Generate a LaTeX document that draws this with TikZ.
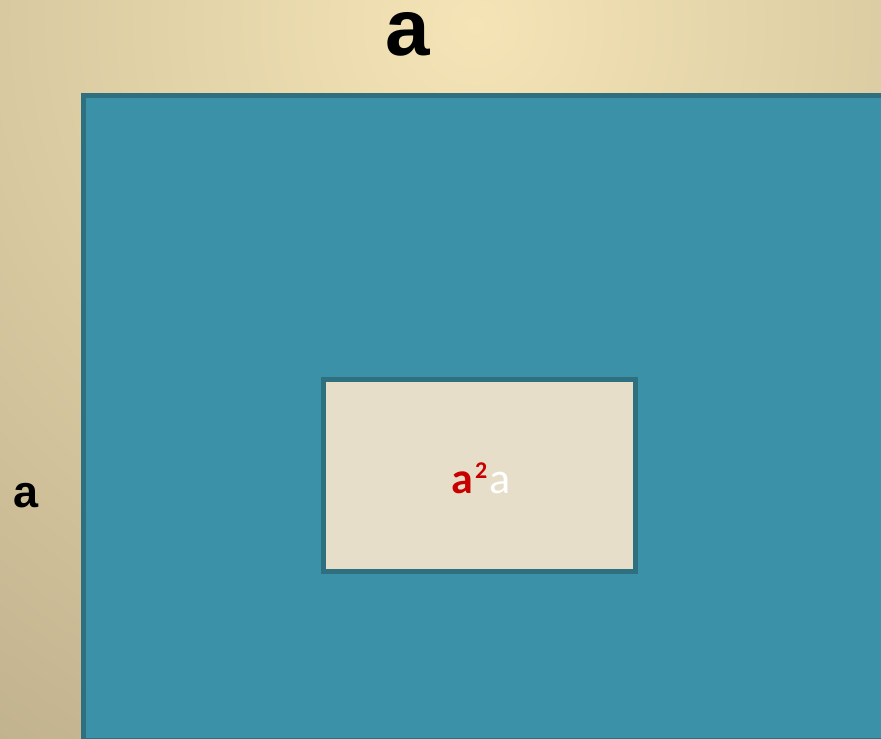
\documentclass[tikz,border=0pt]{standalone}
\usepackage{fontspec}
\setmainfont{Liberation Sans}
\newfontfamily\calibrifont{Carlito}
\usetikzlibrary{positioning}

\definecolor{bglight}{HTML}{F4E4B6}
\definecolor{bgdark}{HTML}{C2B38F}
\definecolor{tealfill}{HTML}{3A91A8}
\definecolor{tealline}{HTML}{2E6F80}
\definecolor{boxfill}{HTML}{E6DEC9}
\definecolor{reda}{HTML}{C80000}

\pgfdeclareradialshading{bgglow}{\pgfpoint{0bp}{0bp}}{%
  color(0bp)=(bglight); color(25bp)=(bgdark); color(50bp)=(bgdark)}

\begin{document}
\begin{tikzpicture}[
  x=1pt, y=-1pt,
  bigbox/.style={draw=tealline, fill=tealfill, line width=5pt},
  smallbox/.style={rectangle, draw=tealline, fill=boxfill, line width=5pt,
    minimum width=312pt, minimum height=192pt, inner sep=0pt},
  side/.style={text=black, inner sep=0pt, text height=0.55em, text depth=0pt}
]

% Frame of the picture
\useasboundingbox (0,0) rectangle (881,739);

% Background shading
\begin{scope}
  \clip (0,0) rectangle (881,739);
  \fill[bgdark] (0,0) rectangle (881,739);
  \shade[shading=bgglow] (475,25) circle (860pt);

  % Large square
  \draw[bigbox] (83.5,95.5) rectangle (886,740);
\end{scope}

% Small rectangle
\node[smallbox] (inner) at (479.5,475.5) {};
\node[anchor=base, inner sep=0pt, font=\calibrifont\fontsize{44}{44}\selectfont]
  (area) at (481,493) {\textcolor{reda}{\bfseries a\kern2pt\raisebox{15pt}{\bfseries\fontsize{24}{24}\selectfont 2}}\kern2pt\textcolor{white}{a}};

% Side labels
\node[side, anchor=base, font=\bfseries\fontsize{80}{80}\selectfont] (topa) at (408,55) {a};
\node[side, anchor=base, font=\bfseries\fontsize{45}{45}\selectfont] (lefta) at (26,507) {a};

\end{tikzpicture}
\end{document}
